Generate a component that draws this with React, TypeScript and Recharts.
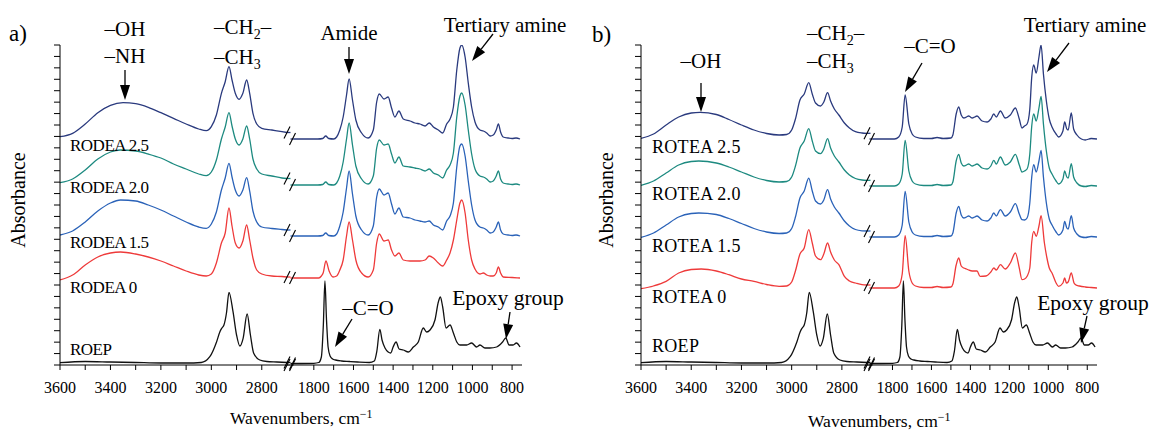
import React from "react";
import { LineChart, Line, XAxis, YAxis, ReferenceDot } from "recharts";

const FONT = '"Liberation Serif", "Times New Roman", Times, serif';

type Pt = [number, number];

// axis ticks
const leftTicks = [2800, 2900, 3000, 3100, 3200, 3300, 3400, 3500, 3600];
const rightTicks = [800, 900, 1000, 1100, 1200, 1300, 1400, 1500, 1600, 1700, 1800];
const yTicks = Array.from({ length: 29 }, (_, i) => (i * 3.2) / 28);

// series order: bottom to top
const colors = ["#111111", "#ee3a3a", "#2a62b8", "#1d8a80", "#2a3a7e"];
const namesA = ["ROEP", "RODEA 0", "RODEA 1.5", "RODEA 2.0", "RODEA 2.5"];
const namesB = ["ROEP", "ROTEA 0", "ROTEA 1.5", "ROTEA 2.0", "ROTEA 2.5"];
const offsetsA = [0, 0.87, 1.29, 1.8, 2.26];
const offsetsB = [0, 0.77, 1.28, 1.79, 2.26];

// ---- ROEP (same sample in both panels)
const roepHigh: Pt[] = [[3600,0.023],[3500,0.035],[3400,0.03],[3300,0.025],[3200,0.02],[3100,0.02],[3040,0.025],[3006,0.083],[2979,0.233],[2966,0.333],[2958,0.37],[2950,0.4],[2940,0.52],[2930,0.727],[2914,0.533],[2900,0.3],[2887,0.19],[2874,0.267],[2858,0.51],[2845,0.3],[2832,0.117],[2808,0.05],[2780,0.035],[2740,0.03],[2700,0.025]];
const roepLow: Pt[] = [[1900,0.015],[1800,0.017],[1775,0.025],[1762,0.08],[1752,0.4],[1744,0.84],[1736,0.45],[1728,0.18],[1718,0.09],[1705,0.06],[1690,0.05],[1660,0.04],[1620,0.035],[1580,0.03],[1520,0.025],[1495,0.04],[1482,0.14],[1467,0.357],[1456,0.25],[1441,0.17],[1425,0.13],[1412,0.12],[1400,0.18],[1385,0.23],[1370,0.16],[1349,0.15],[1323,0.13],[1298,0.18],[1273,0.23],[1248,0.37],[1231,0.33],[1214,0.35],[1189,0.45],[1172,0.63],[1162,0.68],[1150,0.58],[1133,0.37],[1113,0.4],[1096,0.32],[1079,0.23],[1063,0.2],[1029,0.2],[1004,0.22],[979,0.18],[962,0.2],[937,0.17],[912,0.17],[878,0.18],[848,0.23],[832,0.27],[815,0.2],[795,0.2],[778,0.22],[760,0.18]];

// ---- RODEA (panel a)
const rodea0High: Pt[] = [[3600,-0.02],[3550,0.03],[3500,0.13],[3450,0.21],[3400,0.25],[3360,0.26],[3300,0.24],[3250,0.21],[3200,0.17],[3150,0.12],[3100,0.07],[3050,0.03],[3020,0.02],[3000,0.04],[2980,0.15],[2960,0.35],[2945,0.45],[2930,0.7],[2918,0.52],[2905,0.35],[2890,0.3],[2875,0.37],[2860,0.53],[2848,0.38],[2835,0.2],[2820,0.08],[2800,0.04],[2760,0.02],[2720,0.015],[2700,0.01]];
const rodea15High: Pt[] = [[3600,0.01],[3550,0.05],[3500,0.14],[3450,0.25],[3400,0.33],[3360,0.36],[3300,0.35],[3250,0.31],[3200,0.26],[3150,0.2],[3100,0.14],[3050,0.09],[3020,0.077],[3000,0.12],[2980,0.24],[2960,0.46],[2945,0.58],[2930,0.727],[2918,0.59],[2905,0.46],[2890,0.4],[2875,0.46],[2860,0.583],[2848,0.45],[2835,0.25],[2820,0.14],[2800,0.09],[2760,0.075],[2720,0.065],[2700,0.06]];
const rodea20High: Pt[] = [[3600,0.023],[3550,0.06],[3500,0.15],[3450,0.26],[3400,0.33],[3360,0.35],[3300,0.34],[3250,0.31],[3200,0.27],[3150,0.21],[3100,0.16],[3050,0.11],[3020,0.093],[3000,0.13],[2980,0.25],[2960,0.46],[2945,0.58],[2930,0.723],[2918,0.59],[2905,0.46],[2890,0.4],[2875,0.46],[2860,0.59],[2848,0.46],[2835,0.26],[2820,0.16],[2800,0.11],[2760,0.09],[2720,0.07],[2700,0.065]];
const rodea25High: Pt[] = [[3600,0.023],[3550,0.057],[3500,0.15],[3450,0.263],[3400,0.337],[3350,0.363],[3300,0.353],[3250,0.317],[3200,0.263],[3150,0.207],[3100,0.15],[3050,0.1],[3020,0.083],[3000,0.123],[2980,0.24],[2960,0.457],[2945,0.573],[2930,0.723],[2918,0.59],[2905,0.457],[2890,0.397],[2875,0.457],[2860,0.59],[2848,0.457],[2835,0.257],[2820,0.15],[2800,0.107],[2760,0.09],[2720,0.073],[2700,0.065]];

const rodea0Low: Pt[] = [[1900,0],[1775,0],[1762,0.02],[1753,0.05],[1739,0.17],[1723,0.07],[1703,0.01],[1685,0.02],[1669,0.08],[1652,0.18],[1635,0.42],[1622,0.56],[1605,0.38],[1588,0.18],[1559,0.05],[1526,0.01],[1500,0.08],[1483,0.35],[1470,0.44],[1446,0.37],[1425,0.38],[1408,0.28],[1391,0.22],[1371,0.25],[1349,0.18],[1315,0.17],[1290,0.17],[1265,0.17],[1239,0.18],[1218,0.22],[1197,0.2],[1172,0.15],[1150,0.12],[1130,0.18],[1113,0.25],[1096,0.38],[1079,0.58],[1063,0.75],[1054,0.78],[1037,0.65],[1021,0.38],[1004,0.18],[987,0.09],[962,0.04],[945,0.05],[928,0.03],[910,0.02],[895,0.02],[880,0.05],[869,0.11],[858,0.05],[845,0.01],[800,0.005],[760,0]];
const rodea15Low: Pt[] = [[1900,0],[1780,0],[1755,0.005],[1740,0.03],[1725,0.005],[1700,0],[1685,0.02],[1669,0.1],[1652,0.24],[1635,0.48],[1622,0.65],[1605,0.42],[1588,0.2],[1559,0.06],[1526,0.01],[1500,0.1],[1483,0.39],[1470,0.47],[1446,0.41],[1425,0.43],[1408,0.32],[1391,0.22],[1371,0.28],[1349,0.19],[1315,0.18],[1290,0.16],[1265,0.15],[1239,0.14],[1218,0.15],[1197,0.11],[1172,0.09],[1150,0.06],[1130,0.15],[1113,0.2],[1096,0.33],[1079,0.69],[1063,0.9],[1054,0.92],[1037,0.8],[1021,0.55],[1004,0.31],[987,0.16],[962,0.09],[945,0.08],[928,0.06],[910,0.03],[895,0.04],[880,0.09],[869,0.14],[858,0.06],[845,0.02],[820,0.01],[800,0.005],[780,0.01],[760,0]];
const rodea20Low: Pt[] = [[1900,0],[1780,0],[1755,0.005],[1740,0.03],[1725,0.005],[1700,0],[1685,0.02],[1669,0.09],[1652,0.23],[1635,0.46],[1622,0.62],[1605,0.4],[1588,0.19],[1559,0.06],[1526,0.01],[1500,0.09],[1483,0.37],[1470,0.45],[1446,0.4],[1425,0.41],[1408,0.31],[1391,0.22],[1371,0.28],[1349,0.19],[1315,0.18],[1290,0.17],[1265,0.16],[1239,0.14],[1218,0.16],[1197,0.12],[1172,0.1],[1150,0.07],[1130,0.15],[1113,0.2],[1096,0.32],[1079,0.68],[1063,0.89],[1054,0.92],[1037,0.8],[1021,0.55],[1004,0.31],[987,0.16],[962,0.09],[945,0.08],[928,0.06],[910,0.03],[895,0.04],[880,0.09],[869,0.14],[858,0.06],[845,0.02],[820,0.01],[800,0.005],[780,0.01],[760,0]];
const rodea25Low: Pt[] = [[1900,0],[1780,0],[1755,0.005],[1740,0.03],[1725,0.005],[1700,0],[1685,0.02],[1669,0.09],[1652,0.22],[1635,0.44],[1622,0.6],[1605,0.39],[1588,0.19],[1559,0.06],[1526,0.01],[1500,0.09],[1483,0.37],[1470,0.45],[1446,0.4],[1425,0.42],[1408,0.31],[1391,0.22],[1371,0.28],[1349,0.2],[1315,0.18],[1290,0.16],[1265,0.15],[1239,0.13],[1218,0.16],[1197,0.12],[1172,0.09],[1150,0.06],[1130,0.15],[1113,0.2],[1096,0.32],[1079,0.69],[1063,0.91],[1054,0.94],[1037,0.82],[1021,0.56],[1004,0.32],[987,0.17],[962,0.09],[945,0.08],[928,0.06],[910,0.03],[895,0.04],[880,0.09],[869,0.15],[858,0.07],[845,0.02],[820,0.01],[800,0.005],[780,0.01],[760,0]];

// ---- ROTEA (panel b)
const rotea0High: Pt[] = [[3600,-0.007],[3550,0.02],[3500,0.066],[3450,0.15],[3400,0.185],[3360,0.19],[3300,0.17],[3250,0.133],[3200,0.09],[3150,0.066],[3100,0.035],[3050,0.016],[3020,0.02],[3000,0.06],[2985,0.17],[2967,0.34],[2950,0.4],[2932,0.583],[2918,0.45],[2905,0.32],[2885,0.283],[2872,0.34],[2857,0.45],[2845,0.36],[2830,0.28],[2812,0.233],[2790,0.116],[2770,0.07],[2746,0.05],[2720,0.033],[2700,0.03]];
const rotea15High: Pt[] = [[3600,-0.004],[3550,0.04],[3500,0.12],[3450,0.2],[3400,0.235],[3370,0.24],[3300,0.225],[3250,0.185],[3200,0.135],[3150,0.085],[3100,0.05],[3050,0.035],[3020,0.04],[3000,0.085],[2985,0.2],[2967,0.39],[2950,0.46],[2932,0.589],[2918,0.46],[2905,0.36],[2885,0.33],[2872,0.37],[2857,0.473],[2845,0.38],[2830,0.3],[2812,0.24],[2790,0.16],[2770,0.11],[2746,0.075],[2720,0.062],[2700,0.06]];
const rotea20High: Pt[] = [[3600,0.007],[3550,0.05],[3500,0.13],[3450,0.21],[3400,0.245],[3370,0.25],[3300,0.23],[3250,0.19],[3200,0.14],[3150,0.09],[3100,0.055],[3050,0.04],[3020,0.045],[3000,0.09],[2985,0.2],[2967,0.38],[2950,0.45],[2932,0.574],[2918,0.45],[2905,0.35],[2885,0.324],[2872,0.37],[2857,0.474],[2845,0.38],[2830,0.3],[2812,0.24],[2790,0.16],[2770,0.11],[2746,0.075],[2720,0.06],[2700,0.057]];
const rotea25High: Pt[] = [[3600,0.007],[3550,0.05],[3500,0.14],[3450,0.22],[3400,0.26],[3365,0.267],[3300,0.245],[3250,0.195],[3200,0.14],[3150,0.09],[3100,0.055],[3050,0.04],[3020,0.045],[3000,0.09],[2985,0.2],[2967,0.39],[2950,0.45],[2932,0.563],[2918,0.45],[2905,0.36],[2885,0.33],[2872,0.37],[2857,0.463],[2845,0.38],[2830,0.3],[2812,0.24],[2790,0.16],[2770,0.11],[2746,0.073],[2720,0.06],[2700,0.057]];

const rotea0Low: Pt[] = [[1900,0],[1790,0],[1768,0.02],[1750,0.14],[1735,0.523],[1716,0.17],[1699,0.05],[1682,0.02],[1640,0.005],[1600,0.005],[1571,0.015],[1540,0.005],[1500,0.01],[1490,0.04],[1473,0.23],[1460,0.3],[1447,0.22],[1434,0.2],[1420,0.19],[1409,0.18],[1391,0.17],[1366,0.17],[1350,0.117],[1320,0.12],[1295,0.16],[1280,0.2],[1267,0.18],[1246,0.233],[1221,0.19],[1195,0.25],[1169,0.35],[1149,0.2],[1135,0.083],[1122,0.09],[1109,0.117],[1095,0.2],[1085,0.46],[1075,0.567],[1062,0.517],[1048,0.62],[1037,0.723],[1020,0.45],[1007,0.3],[995,0.2],[981,0.15],[960,0.05],[947,0.017],[925,0.05],[916,0.1],[907,0.05],[898,0.06],[882,0.15],[868,0.05],[860,0.033],[840,0.02],[810,0.01],[780,0.005],[750,0]];
const rotea15Low: Pt[] = [[1900,0],[1790,0],[1768,0.02],[1750,0.12],[1735,0.457],[1716,0.15],[1699,0.05],[1682,0.02],[1640,0.005],[1600,0.005],[1571,0.015],[1540,0.005],[1500,0.01],[1490,0.04],[1473,0.24],[1460,0.307],[1447,0.22],[1434,0.19],[1420,0.2],[1409,0.21],[1400,0.2],[1391,0.19],[1378,0.2],[1366,0.21],[1340,0.17],[1314,0.16],[1295,0.19],[1280,0.24],[1267,0.21],[1246,0.273],[1221,0.21],[1195,0.25],[1169,0.333],[1149,0.23],[1135,0.173],[1122,0.17],[1109,0.19],[1095,0.34],[1085,0.6],[1075,0.723],[1062,0.65],[1048,0.76],[1037,0.867],[1025,0.6],[1010,0.34],[995,0.18],[981,0.12],[960,0.05],[947,0.02],[925,0.07],[916,0.157],[905,0.09],[898,0.08],[882,0.213],[870,0.09],[853,0.03],[830,0],[810,-0.005],[780,0.005],[750,0]];
const rotea20Low: Pt[] = [[1900,0],[1790,0],[1768,0.02],[1750,0.12],[1735,0.457],[1716,0.15],[1699,0.05],[1682,0.02],[1640,0.005],[1600,0.005],[1571,0.015],[1540,0.005],[1500,0.01],[1490,0.04],[1473,0.25],[1460,0.317],[1447,0.23],[1434,0.2],[1420,0.21],[1409,0.22],[1400,0.21],[1391,0.2],[1378,0.21],[1366,0.22],[1340,0.18],[1314,0.17],[1295,0.2],[1280,0.257],[1267,0.22],[1246,0.29],[1221,0.21],[1195,0.24],[1169,0.317],[1149,0.21],[1135,0.14],[1122,0.15],[1109,0.17],[1095,0.32],[1085,0.6],[1075,0.72],[1062,0.65],[1048,0.78],[1037,0.897],[1025,0.62],[1010,0.35],[995,0.18],[981,0.12],[960,0.05],[947,0.02],[925,0.07],[916,0.15],[905,0.09],[898,0.08],[882,0.223],[870,0.09],[853,0.03],[830,0],[810,-0.005],[780,0.005],[750,0]];
const rotea25Low: Pt[] = [[1900,0],[1790,0],[1768,0.02],[1750,0.12],[1735,0.44],[1716,0.15],[1699,0.05],[1682,0.02],[1640,0.005],[1600,0.005],[1571,0.015],[1540,0.005],[1500,0.01],[1490,0.04],[1473,0.25],[1460,0.32],[1447,0.24],[1434,0.21],[1420,0.22],[1409,0.23],[1400,0.22],[1391,0.21],[1378,0.22],[1366,0.23],[1340,0.18],[1314,0.17],[1295,0.2],[1280,0.25],[1267,0.22],[1246,0.28],[1221,0.21],[1195,0.24],[1169,0.31],[1149,0.2],[1135,0.11],[1122,0.13],[1109,0.15],[1095,0.3],[1085,0.62],[1075,0.74],[1062,0.66],[1048,0.82],[1037,0.94],[1025,0.65],[1010,0.38],[995,0.2],[981,0.12],[960,0.05],[947,0.02],[925,0.08],[916,0.17],[905,0.1],[898,0.09],[882,0.26],[870,0.1],[853,0.04],[830,0],[810,-0.01],[780,0.005],[750,0]];

const panelAHigh = [roepHigh, rodea0High, rodea15High, rodea20High, rodea25High];
const panelALow = [roepLow, rodea0Low, rodea15Low, rodea20Low, rodea25Low];
const panelBHigh = [roepHigh, rotea0High, rotea15High, rotea20High, rotea25High];
const panelBLow = [roepLow, rotea0Low, rotea15Low, rotea20Low, rotea25Low];

const slash = (c: number, cy: number) => (
  <line x1={c - 3} y1={cy + 6} x2={c + 3} y2={cy - 6} stroke="#000" strokeWidth={1.1} />
);

const breakShape = (side: string, color: string) => (p: any) => {
  const { cx, cy } = p;
  if (side === "left") {
    return (
      <g>
        <line x1={cx} y1={cy} x2={cx + 3.5} y2={cy} stroke={color} strokeWidth={1.3} />
        {slash(cx, cy)}
      </g>
    );
  }
  return (
    <g>
      <line x1={cx - 3.5} y1={cy} x2={cx} y2={cy} stroke={color} strokeWidth={1.3} />
      {slash(cx - 1.5, cy)}
    </g>
  );
};

function Segment({ x, plotW, side, spectra, offsets }: any) {
  const withY = side === "left";
  const yW = withY ? 20 : 0;
  const mLeft = withY ? 0 : 10;
  const mRight = withY ? 10 : 6;
  const domain = withY ? [2700, 3600] : [750, 1900];
  const edge = withY ? 2700 : 1900;
  const rows = spectra.map((s: Pt[], i: number) => s.map(([wn, a]) => ({ wn, a: a + offsets[i] })));
  return (
    <div style={{ position: "absolute", left: x - yW - mLeft, top: 40 }}>
      <LineChart width={mLeft + yW + plotW + mRight} height={365} margin={{ top: 5, right: mRight, bottom: 0, left: mLeft }}>
        <XAxis
          type="number"
          dataKey="wn"
          domain={domain}
          reversed
          allowDataOverflow
          ticks={withY ? leftTicks : rightTicks}
          interval={0}
          tickFormatter={(v: number) => (v % 200 === 0 ? String(v) : "")}
          tickSize={5}
          tickMargin={12}
          height={40}
          tick={{ fill: "#000", fontSize: 16, fontFamily: FONT, style: { fontFamily: FONT } }}
          axisLine={{ stroke: "#000" }}
          tickLine={{ stroke: "#000" }}
        />
        {withY ? (
          <YAxis
            domain={[0, 3.2]}
            allowDataOverflow
            ticks={yTicks}
            interval={0}
            width={yW}
            tickSize={6}
            tickFormatter={() => ""}
            axisLine={{ stroke: "#000" }}
            tickLine={{ stroke: "#000" }}
          />
        ) : (
          <YAxis hide domain={[0, 3.2]} allowDataOverflow />
        )}
        {rows.map((r: any[], i: number) => (
          <Line key={i} data={r} dataKey="a" type="monotone" stroke={colors[i]} strokeWidth={1.3} dot={false} isAnimationActive={false} />
        ))}
        {rows.map((r: any[], i: number) => {
          const p = r.find((d) => d.wn === edge);
          return <ReferenceDot key={"b" + i} x={edge} y={p.a} ifOverflow="visible" shape={breakShape(side, colors[i])} />;
        })}
        <ReferenceDot x={edge} y={0} ifOverflow="visible" shape={breakShape(side, "#000")} />
      </LineChart>
    </div>
  );
}

function Arrow({ x1, y1, x2, y2 }: any) {
  const ang = Math.atan2(y2 - y1, x2 - x1);
  const L = 15, W = 5;
  const bx = x2 - L * Math.cos(ang), by = y2 - L * Math.sin(ang);
  const px = -Math.sin(ang) * W, py = Math.cos(ang) * W;
  return (
    <g>
      <line x1={x1} y1={y1} x2={bx} y2={by} stroke="#000" strokeWidth={1.3} />
      <polygon points={`${x2},${y2} ${bx + px},${by + py} ${bx - px},${by - py}`} fill="#000" />
    </g>
  );
}

const Sub = ({ t }: any) => (
  <tspan dy={5} fontSize={14}>{t}</tspan>
);

const T = (props: any) => <text {...props} style={{ fontFamily: FONT }} />;

export default function App() {
  const labelYA = [355, 293, 248, 193, 151];
  const labelYB = [352, 303, 252, 200, 153];
  return (
    <div style={{ position: "absolute", left: 0, top: 0, width: 1151, height: 430, background: "#fff", fontFamily: FONT }}>
      <Segment x={60} plotW={227} side="left" spectra={panelAHigh} offsets={offsetsA} />
      <Segment x={294} plotW={228} side="right" spectra={panelALow} offsets={offsetsA} />
      <Segment x={641} plotW={226} side="left" spectra={panelBHigh} offsets={offsetsB} />
      <Segment x={873} plotW={224} side="right" spectra={panelBLow} offsets={offsetsB} />
      <svg width={1151} height={430} style={{ position: "absolute", left: 0, top: 0, pointerEvents: "none" }} fill="#000">
        {/* panel a */}
        <T x={9} y={41} fontSize={23}>a)</T>
        <T x={125} y={36} fontSize={21} textAnchor="middle">–OH</T>
        <T x={125} y={63} fontSize={21} textAnchor="middle">–NH</T>
        <Arrow x1={125} y1={70} x2={125} y2={100} />
        <T x={214} y={34} fontSize={21}>–CH<Sub t="2" /><tspan dy={-5}>–</tspan></T>
        <T x={214} y={64} fontSize={21}>–CH<Sub t="3" /></T>
        <T x={349} y={40} fontSize={21} textAnchor="middle">Amide</T>
        <Arrow x1={349} y1={47} x2={349} y2={74} />
        <T x={505} y={32} fontSize={21} textAnchor="middle">Tertiary amine</T>
        <Arrow x1={493} y1={34} x2={472} y2={61} />
        <T x={368} y={315} fontSize={21} textAnchor="middle">–C=O</T>
        <Arrow x1={352} y1={319} x2={335} y2={347} />
        <T x={508} y={305} fontSize={21.5} textAnchor="middle">Epoxy group</T>
        <Arrow x1={510} y1={312} x2={506} y2={339} />
        {namesA.map((n, i) => (
          <T key={n} x={70} y={labelYA[i]} fontSize={17} letterSpacing={-0.5}>{n}</T>
        ))}
        <T transform="translate(25,200) rotate(-90)" fontSize={20} textAnchor="middle">Absorbance</T>
        <T x={230} y={424} fontSize={17.5}>Wavenumbers, cm<tspan dy={-6} fontSize={12}>−1</tspan></T>

        {/* panel b */}
        <T x={592} y={42} fontSize={23}>b)</T>
        <T x={701} y={68} fontSize={21} textAnchor="middle">–OH</T>
        <Arrow x1={701} y1={83} x2={701} y2={112} />
        <T x={807} y={40} fontSize={21}>–CH<Sub t="2" /><tspan dy={-5}>–</tspan></T>
        <T x={807} y={68} fontSize={21}>–CH<Sub t="3" /></T>
        <T x={930} y={53} fontSize={21} textAnchor="middle">–C=O</T>
        <Arrow x1={922} y1={63} x2={905} y2={92} />
        <T x={1085} y={32} fontSize={21} textAnchor="middle">Tertiary amine</T>
        <Arrow x1={1069} y1={43} x2={1047} y2={72} />
        <T x={1093} y={310} fontSize={21.5} textAnchor="middle">Epoxy group</T>
        <Arrow x1={1087} y1={316} x2={1081} y2={343} />
        {namesB.map((n, i) => (
          <T key={n} x={652} y={labelYB[i]} fontSize={18} letterSpacing={0.3}>{n}</T>
        ))}
        <T transform="translate(613,200) rotate(-90)" fontSize={20} textAnchor="middle">Absorbance</T>
        <T x={808} y={427} fontSize={17.5}>Wavenumbers, cm<tspan dy={-6} fontSize={12}>−1</tspan></T>
      </svg>
    </div>
  );
}
